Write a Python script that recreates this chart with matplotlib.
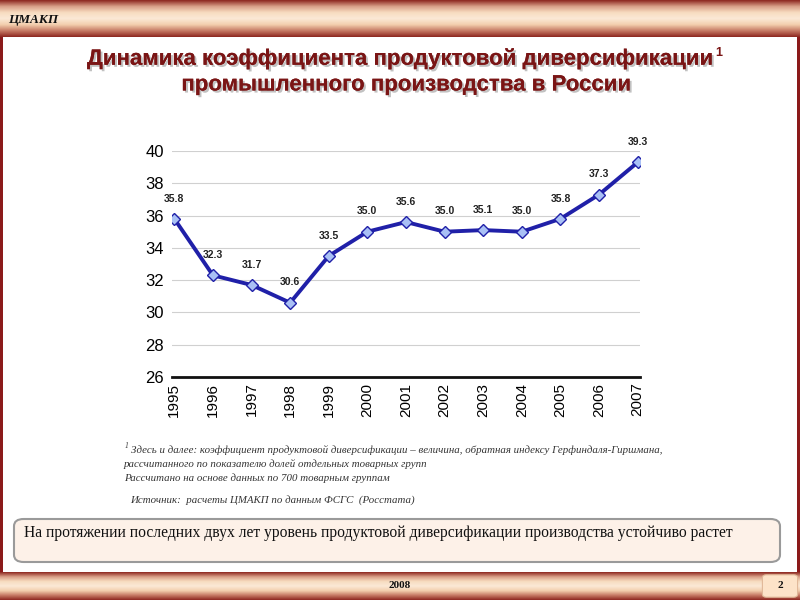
import matplotlib
matplotlib.use("Agg")
import matplotlib.pyplot as plt
import numpy as np
from matplotlib.patches import FancyBboxPatch, Rectangle
from matplotlib.colors import LinearSegmentedColormap
import matplotlib.patheffects as pe

years = ["1995", "1996", "1997", "1998", "1999", "2000", "2001",
         "2002", "2003", "2004", "2005", "2006", "2007"]
values = [35.8, 32.3, 31.7, 30.6, 33.5, 35.0, 35.6, 35.0, 35.1, 35.0, 35.8, 37.3, 39.3]
yticks = [26, 28, 30, 32, 34, 36, 38, 40]

title_l1 = "Динамика коэффициента продуктовой диверсификации"
title_l2 = "промышленного производства в России"
foot_l1 = "Здесь и далее: коэффициент продуктовой диверсификации – величина, обратная индексу Герфиндаля-Гиршмана,"
foot_l2 = "рассчитанного по показателю долей отдельных товарных групп"
foot_l3 = "Рассчитано на основе данных по 700 товарным группам"
source = "Источник:  расчеты ЦМАКП по данным ФСГС  (Росстата)"
conclusion = "На протяжении последних двух лет уровень продуктовой диверсификации производства устойчиво растет"

fig = plt.figure(figsize=(8, 6), dpi=100)
fig.patch.set_facecolor("white")

W, H = 800, 600
def fx(px): return px / W
def fy(py): return 1 - py / H

dark = "#8b1a1a"
grad = np.linspace(0, 1, 60).reshape(-1, 1)
bandcmap = LinearSegmentedColormap.from_list(
    "band", ["#8f2a22", "#d9a088", "#f7dcc0", "#fbe9d6", "#f3cfae", "#c77b66", "#8f2a22"])

# --- header band ---
axh = fig.add_axes([0, fy(37), 1, 37 / H])
axh.imshow(grad, aspect="auto", cmap=bandcmap, extent=[0, 1, 0, 1])
axh.set_axis_off()
fig.text(fx(8), fy(20), "ЦМАКП", fontsize=9.5, fontstyle="italic", fontweight="bold",
         family="Liberation Serif", va="center", ha="left", color="#111111")

# --- bottom band ---
axf = fig.add_axes([0, 0, 1, 28 / H])
axf.imshow(grad, aspect="auto", cmap=bandcmap, extent=[0, 1, 0, 1])
axf.set_axis_off()
fig.text(0.5, fy(586), "2008", fontsize=8, fontweight="bold", family="Liberation Serif",
         ha="center", va="center", color="#111111")
fig.patches.append(FancyBboxPatch((fx(764), fy(596)), 32 / W, 20 / H,
                                  boxstyle="round,pad=0.002,rounding_size=0.005",
                                  transform=fig.transFigure, facecolor="#fde3c8",
                                  edgecolor="#e0b898", lw=0.8))
fig.text(fx(780), fy(586), "2", fontsize=8, fontweight="bold", family="Liberation Serif",
         ha="center", va="center", color="#111111")

# side borders
fig.patches.append(Rectangle((0, fy(572)), 3 / W, (572 - 37) / H, transform=fig.transFigure,
                             facecolor=dark, edgecolor="none"))
fig.patches.append(Rectangle((1 - 3 / W, fy(572)), 3 / W, (572 - 37) / H, transform=fig.transFigure,
                             facecolor=dark, edgecolor="none"))

# --- title ---
shadow = [pe.withSimplePatchShadow(offset=(1.5, -1.5), shadow_rgbFace="#999999", alpha=0.6), pe.Normal()]
fig.text(0.5, fy(59), title_l1, fontsize=16, fontweight="bold", family="Liberation Sans",
         ha="center", va="center", color="#7a1515", path_effects=shadow)
fig.text(fx(715), fy(53), "1", fontsize=9, fontweight="bold", family="Liberation Sans",
         ha="left", va="center", color="#7a1515")
fig.text(0.508, fy(85), title_l2, fontsize=16, fontweight="bold", family="Liberation Sans",
         ha="center", va="center", color="#7a1515", path_effects=shadow)

# --- chart ---
ax = fig.add_axes([fx(172), fy(377), (640 - 172) / W, (377 - 151) / H])
x = np.arange(len(years))
ax.plot(x, values, color="#2020a8", lw=2.8, zorder=3,
        marker="D", markersize=6, markerfacecolor="#a9c0f5", markeredgecolor="#2020a8",
        markeredgewidth=1.0)
ax.set_ylim(26, 40)
ax.set_xlim(-0.06, 12.06)
ax.set_yticks(yticks)
ax.set_xticks(x)
ax.set_xticklabels(years, rotation=90, fontsize=11, family="Liberation Sans")
for lab in ax.get_yticklabels():
    lab.set_family("Liberation Sans")
    lab.set_fontsize(12)
ax.tick_params(axis="both", length=0, pad=4)
ax.tick_params(axis="y", pad=6)
ax.grid(axis="y", color="#d0d0d0", lw=0.8)
for s in ["top", "right", "left"]:
    ax.spines[s].set_visible(False)
ax.spines["bottom"].set_linewidth(2)
ax.spines["bottom"].set_color("#111111")
ax.set_axisbelow(True)
for xi, v in zip(x, values):
    ax.annotate(f"{v:.1f}", (xi, v), xytext=(0, 11), textcoords="offset points",
                ha="center", va="bottom", fontsize=7.5, fontweight="bold",
                family="Liberation Sans", color="#222222", annotation_clip=False)

# --- footnotes ---
fcol = "#333333"
fkw = dict(fontsize=7.8, fontstyle="italic", family="Liberation Serif", ha="left",
           va="center", color=fcol)
fig.text(fx(125), fy(446), "1", fontsize=5.5, fontstyle="italic", family="Liberation Serif",
         ha="left", va="center", color=fcol)
fig.text(fx(131), fy(450), foot_l1, **fkw)
fig.text(fx(124), fy(464), foot_l2, **fkw)
fig.text(fx(124), fy(478), foot_l3, **fkw)
fig.text(fx(130), fy(500), source, **fkw)

# --- conclusion box ---
fig.patches.append(FancyBboxPatch((fx(14), fy(562)), (780 - 14) / W, (562 - 519) / H,
                                  boxstyle="round,pad=0,rounding_size=0.012",
                                  transform=fig.transFigure, facecolor="#fdf1e8",
                                  edgecolor="#9a9a9a", lw=1.5))
fig.text(fx(24), fy(533), conclusion, fontsize=11.25, family="Liberation Serif",
         ha="left", va="center", color="#111111")

fig.savefig("out.png", dpi=100)
